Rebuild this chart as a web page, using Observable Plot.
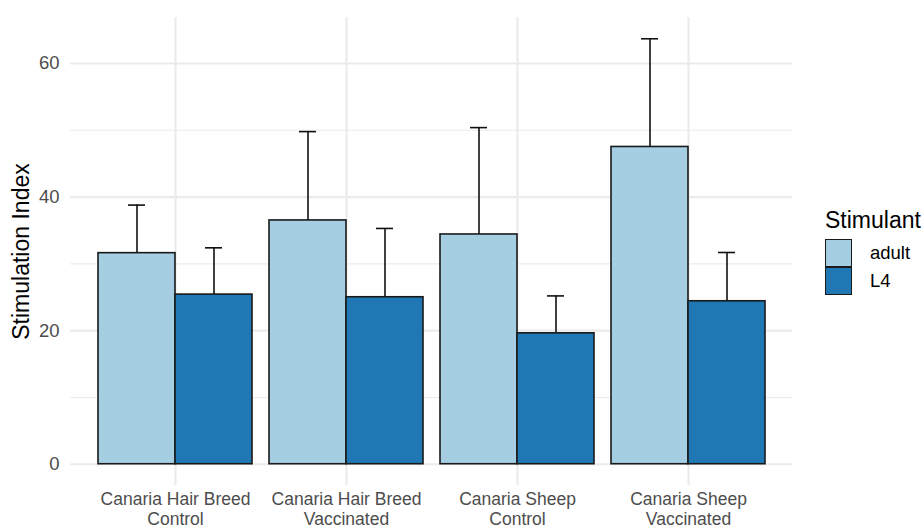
<!DOCTYPE html>
<html>
<head>
<meta charset="utf-8">
<script src="https://cdn.jsdelivr.net/npm/d3@7"></script>
<script src="https://cdn.jsdelivr.net/npm/@observablehq/plot@0.6"></script>
<style>
  html, body { margin: 0; padding: 0; background: #fff; }
  #wrap { position: relative; width: 924px; height: 530px; font-family: "Liberation Sans", Arial, sans-serif; }
  #wrap svg { position: absolute; left: 0; top: 0; }
  #legend { position: absolute; left: 825px; top: 206px; color: #000; }
  #legend .title { font-size: 23px; line-height: 28px; margin-bottom: 5px; }
  #legend .item { display: flex; align-items: center; height: 28px; }
  #legend .sw { width: 25px; height: 26px; border: 1.6px solid #1a1a1a; box-sizing: content-box; margin-right: 18px; }
  #legend .lab { font-size: 18.5px; }
</style>
</head>
<body>
<div id="wrap"></div>
<script>
const categories = ["Canaria Hair Breed\nControl", "Canaria Hair Breed\nVaccinated", "Canaria Sheep\nControl", "Canaria Sheep\nVaccinated"];
const stimulants = ["adult", "L4"];
const adultMean = [31.6, 36.5, 34.4, 47.5];
const adultUpper = [38.8, 49.8, 50.4, 63.7];
const l4Mean = [25.4, 25.0, 19.6, 24.4];
const l4Upper = [32.4, 35.3, 25.2, 31.7];
const colors = ["#A6CEE3", "#1F78B4"];
const yMajor = [0, 20, 40, 60];
const yMinor = [10, 30, 50];

const rows = [];
categories.forEach((c, i) => {
  rows.push({cat: c, stim: "adult", value: adultMean[i], upper: adultUpper[i]});
  rows.push({cat: c, stim: "L4", value: l4Mean[i], upper: l4Upper[i]});
});

const ymax = d3.max(rows, d => d.upper);
const pad = ymax * 0.05;
const yDomain = [-pad, ymax + pad];

const W = 924, H = 530;
const M = {left: 70, right: 132, top: 17, bottom: 45};
const font = "Liberation Sans, Arial, sans-serif";

const bg = Plot.plot({
  width: W, height: H,
  marginLeft: M.left, marginRight: M.right, marginTop: M.top, marginBottom: M.bottom,
  style: {fontFamily: font, background: "transparent"},
  x: {type: "point", domain: categories, padding: 0.6, axis: null},
  y: {domain: yDomain, axis: null},
  marks: [
    Plot.ruleY(yMinor, {stroke: "#EBEBEB", strokeWidth: 1.1}),
    Plot.ruleY(yMajor, {stroke: "#EBEBEB", strokeWidth: 2.2}),
    Plot.ruleX(categories, {stroke: "#EBEBEB", strokeWidth: 2.2}),
    Plot.axisY(yMajor, {tickSize: 0, tickPadding: 11, fontSize: 18.5, fill: "#4D4D4D", label: null}),
    Plot.text(categories, {x: d => d, text: d => d, frameAnchor: "bottom", lineAnchor: "top", dy: 5.5, lineHeight: 1.12, fontSize: 17.5, fill: "#4D4D4D"}),
    Plot.text(["Stimulation Index"], {frameAnchor: "left", textAnchor: "middle", lineAnchor: "middle", rotate: -90, dx: -49, fontSize: 23, fill: "#000", text: d => d})
  ]
});

const fg = Plot.plot({
  width: W, height: H,
  marginLeft: M.left, marginRight: M.right, marginTop: M.top, marginBottom: M.bottom,
  style: {fontFamily: font, background: "transparent"},
  fx: {domain: categories, paddingInner: 0.1, paddingOuter: 0.15, axis: null, label: null},
  x: {domain: stimulants, padding: 0, axis: null},
  y: {domain: yDomain, axis: null},
  color: {domain: stimulants, range: colors},
  marks: [
    Plot.ruleX(rows, {fx: "cat", x: "stim", y1: "value", y2: "upper", stroke: "#111", strokeWidth: 1.6}),
    Plot.tickY(rows, {fx: "cat", x: "stim", y: "upper", stroke: "#111", strokeWidth: 1.6, insetLeft: 30, insetRight: 30}),
    Plot.barY(rows, {fx: "cat", x: "stim", y1: 0, y2: "value", fill: "stim", stroke: "#1a1a1a", strokeWidth: 1.6})
  ]
});

const wrap = document.getElementById("wrap");
wrap.appendChild(bg);
wrap.appendChild(fg);

const leg = document.createElement("div");
leg.id = "legend";
leg.innerHTML = `<div class="title">Stimulant</div>` + stimulants.map((s, i) =>
  `<div class="item"><div class="sw" style="background:${colors[i]}"></div><span class="lab">${s}</span></div>`).join("");
wrap.appendChild(leg);
</script>
</body>
</html>
